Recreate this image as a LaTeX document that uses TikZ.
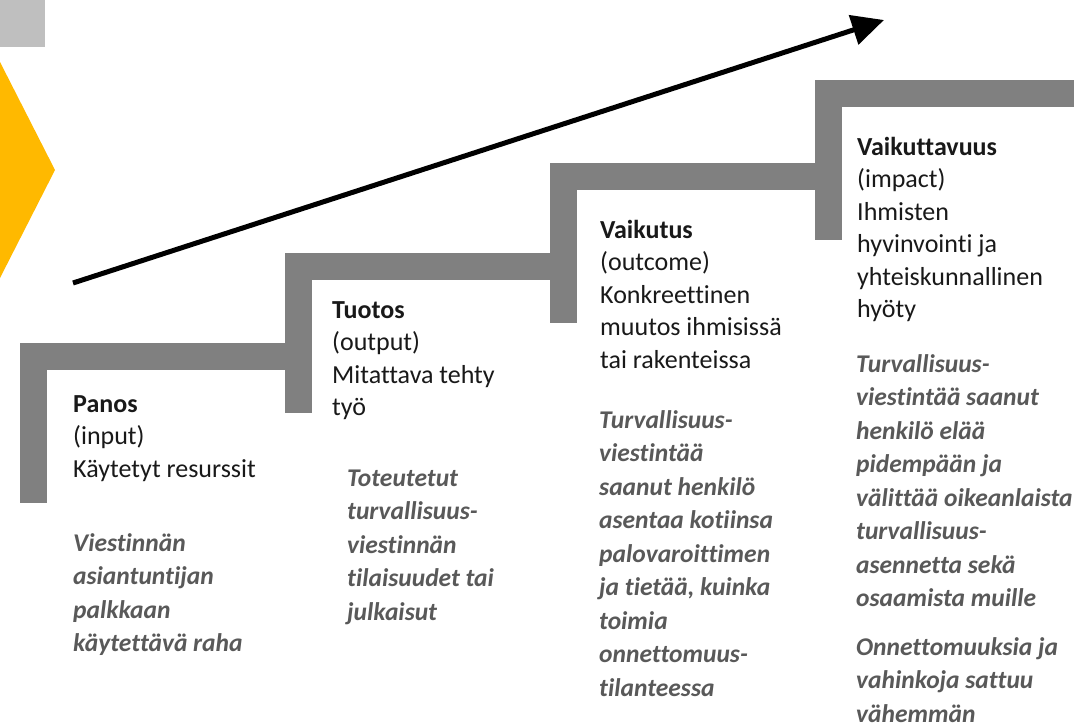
\documentclass[tikz,border=0pt]{standalone}
\usepackage{fontspec}
\setmainfont{Carlito}[RawFeature={-liga;-clig}]
\usepackage{xcolor}
\usetikzlibrary{arrows.meta,positioning}

\definecolor{stairgray}{RGB}{128,128,128}
\definecolor{boxgray}{RGB}{191,191,191}
\definecolor{chevyellow}{RGB}{255,185,0}
\definecolor{notegray}{RGB}{89,89,89}
\definecolor{textblack}{RGB}{25,25,25}

\begin{document}
\begin{tikzpicture}[x=1pt,y=-1pt,
    stair/.style={fill=stairgray},
    level/.style={anchor=north west,inner sep=0pt,align=left,text=textblack,
        font=\fontsize{26}{32.5}\selectfont},
    example/.style={anchor=north west,inner sep=0pt,align=left,text=notegray,
        font=\fontsize{25.5}{33.5}\selectfont\bfseries\itshape}]
    \useasboundingbox[fill=white] (0,0) rectangle (1074,724);

    % 左上角的灰色方块和黄色箭头
    \fill[boxgray] (0,0) rectangle (45,47);
    \fill[chevyellow] (0,62) -- (55,170) -- (0,278) -- cycle;

    % 台阶
    \foreach \sx/\sy/\len [count=\i] in {20/343/292, 285/253/292, 550/163/292, 815/80/259} {
        \coordinate (s\i) at (\sx,\sy);
        \fill[stair] (s\i) rectangle ++(27,160);
        \fill[stair] (s\i) rectangle ++(\len,27);
    }

    % 上升的箭头
    \coordinate (rise start) at (73,283);
    \coordinate (rise end) at (884,20);
    \draw[line width=5pt,-{Triangle[length=32pt,width=30pt]}] (rise start) -- (rise end);

    % 各台阶的文字
    \node[level] (panos) at ([xshift=53pt,yshift=-47pt]s1)
        {\rule{0pt}{22pt}\textbf{Panos}\\(input)\\Käytetyt resurssit};
    \node[example] (panos ex) at ([xshift=53pt,yshift=-186pt]s1)
        {\rule{0pt}{22pt}Viestinnän\\asiantuntijan\\palkkaan\\käytettävä raha};

    \node[level] (tuotos) at ([xshift=47pt,yshift=-43pt]s2)
        {\rule{0pt}{22pt}\textbf{Tuotos}\\(output)\\Mitattava tehty\\työ};
    \node[example] (tuotos ex) at ([xshift=62pt,yshift=-211pt]s2)
        {\rule{0pt}{22pt}Toteutetut\\turvallisuus-\\viestinnän\\tilaisuudet tai\\julkaisut};

    \node[level] (vaikutus) at ([xshift=50pt,yshift=-53pt]s3)
        {\rule{0pt}{22pt}\textbf{Vaikutus}\\(outcome)\\Konkreettinen\\muutos ihmisissä\\tai rakenteissa};
    \node[example] (vaikutus ex) at ([xshift=49pt,yshift=-243pt]s3)
        {\rule{0pt}{22pt}Turvallisuus-\\viestintää\\saanut henkilö\\asentaa kotiinsa\\palovaroittimen\\ja tietää, kuinka\\toimia\\onnettomuus-\\tilanteessa};

    \node[level] (vaikuttavuus) at ([xshift=42pt,yshift=-53pt]s4)
        {\rule{0pt}{22pt}\textbf{Vaikuttavuus}\\(impact)\\Ihmisten\\hyvinvointi ja\\yhteiskunnallinen\\hyöty};
    \node[example] (vaikuttavuus ex) at ([xshift=41pt,yshift=-270pt]s4)
        {\rule{0pt}{22pt}Turvallisuus-\\viestintää saanut\\henkilö elää\\pidempään ja\\välittää oikeanlaista\\turvallisuus-\\asennetta sekä\\osaamista muille};
    \node[example] (vaikuttavuus ex2) at ([xshift=41pt,yshift=-553pt]s4)
        {\rule{0pt}{22pt}Onnettomuuksia ja\\vahinkoja sattuu\\vähemmän};
\end{tikzpicture}
\end{document}
